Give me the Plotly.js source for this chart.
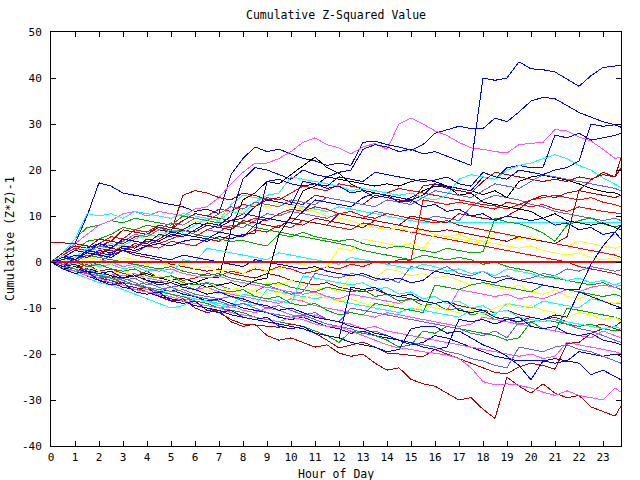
<!DOCTYPE html>
<html><head><meta charset="utf-8">
<script src="https://cdn.plot.ly/plotly-3.0.1.min.js"></script>
<style>
html,body{margin:0;padding:0;background:#fff}
#chart{width:640px;height:480px}
.js-line{shape-rendering:crispEdges}
</style>
</head><body><div id="chart"></div>
<script>
// Hour of day (half-hour samples)
const hours = [0,0.5,1,1.5,2,2.5,3,3.5,4,4.5,5,5.5,6,6.5,7,7.5,8,8.5,9,9.5,10,10.5,11,11.5,12,12.5,13,13.5,14,14.5,15,15.5,16,16.5,17,17.5,18,18.5,19,19.5,20,20.5,21,21.5,22,22.5,23,23.5,23.75];

// Cumulative (Z*Z)-1 series
const sR2  = [0,-0.5,0.5,-1,0,1.5,2.5,2,3.5,3,4.5,4,3.5,5,4.5,6,5.5,7,6.5,8,7.5,9,8.5,8,7.5,7,8.5,8,7.5,7,6.5,6,5.5,5,4.5,4,3.5,3,2.5,2,1.5,1,0.5,0,-1,-1.5,-2,-2.5,-3];
const sG2  = [0,2,5,7.5,8,9,8.5,9.5,9,8.5,8,10,9.5,9,8.5,9,8.5,7.5,7,6.5,6,5.5,5,4.5,4,3.5,2.5,2,1.5,1,0.5,1.5,1,0.5,1,0.5,-0.5,0,-1,-1.5,-2,-3,-3.5,-4,-4.5,-5,-4.5,-5.5,-6];
const sB   = [0,2,4,10,17.2,16.5,15,14.5,14,13,12.5,12,11,11.5,10.5,19,22.5,25,24,24.5,23.5,22.5,22,21,21.5,21,26,26.3,25.5,25,24.3,25.5,28,28.7,29.5,29,29,31.3,30.5,32.6,35,35.8,35.5,34,32.5,31.5,30.5,29.8,29.3];
const sM1  = [0,1.5,4,6,8,9,10.5,11,10,11,10.5,10,11.5,12,14,17,19.5,21.5,21.5,22.5,24,26,27,25.5,24.8,23.5,25,25.8,24.5,30,31.3,30,28.5,27.5,26,24.8,24.5,24,23.7,25.5,25.8,26,28.8,28.5,27.2,26.3,24.5,22.5,22.8];
const sM2  = [0,2,5,10.5,10,10.5,9.5,11,10.5,10,9.5,10.5,10,9.5,9,12.5,14.5,14,13.5,13,12.5,12,11.5,11,12,11.5,11,10.5,10,9.5,9,8.5,8.5,8.5,8.5,8.5,8.5,8.5,8.5,8.5,8.5,8.5,8.5,8.5,8.5,8.5,8.5,8.5,8.5];
const sDR3 = [4.3,4.2,4,3.5,3,2.5,2.5,1.5,1,0.5,-0.5,-1,-1.5,-2,-1.5,-2.5,-3,-3.5,-2.5,-3,-4,-4.5,-5,-4.5,-5.5,-6,-6.5,-6,-7,-7.5,-8,-8.5,-9,-8.5,-9.5,-10,-10.5,-11,-10.5,-11.5,-12,-12.5,-12,-13,-13.5,-14,-13.5,-14.5,-15];
const sY1  = [0,-0.5,1,0.5,2.5,2,4,5.5,5,6.5,6,7.5,9,8.5,10,11.5,11,12.5,12,12.5,12,11.5,11,10,9.5,9,8,7.5,7,7.5,6.5,7,6,5.5,6,5,4.5,4,3.5,3,3.5,2.5,2,1.5,2,1,0.5,1,0.5];
const sLB1 = [0,-1,0,1.5,1,2,3.5,3,4.5,4,5,6,5.5,7,6.5,8,7.5,9,10.5,10,11,10.5,10,9.5,10.5,10,9.5,11,10.5,10,9.5,9,10,9.5,9,12,13.5,14.5,14,13.5,12.5,12,11,10.5,10,9.5,9,9.5,9];
const sK1  = [0,-1,-0.5,-1.5,-2,-1.5,-2.5,-3,-2.5,-3.5,-4,-3.5,-4.5,-3.5,-3.3,7,13.5,15,17.5,17,19,21,22.8,20.5,19.3,17,15.6,15,14.5,13,14,15.5,16.5,16.3,16,15.5,14.6,15.5,14,17.5,18.5,18.9,18.3,17.8,17,16,15.3,15,14.5];
const sR1  = [0,1.5,3,2.5,4,5.5,5,7,6.5,8,7.5,9,10.5,10,11.5,11,12.5,12,14,13.5,15,16.5,16,15.5,17,16.5,16,15.5,15,16,15.5,15,14.5,14,13.5,13,12.5,12.2,11.5,12.5,13.5,14,14.5,14,13.5,14,13,12.5,12];
const sG1  = [0,1,2.5,4.5,5,6,7.5,7,8,7.5,6.5,7,6,5.5,5,4.5,4.7,4,3.5,6,5.5,6.5,5.5,5,4.5,5,4,3.5,3,3.5,3,2.5,2,3,2.5,2,2.2,9.5,8.7,8.3,7.5,6.3,4.5,8,9,9.6,8.3,7.6,8];
const sBL1 = [0,-1,-1.5,-2.5,-3,-3.5,-4.5,-5,-5.5,-6.5,-6,-7,-7.5,-8.5,-8,-9,-10,-10.5,-11,-12,-12.5,-12,-13,-14,-14.5,-15.5,-15,-16,-16.5,-17,-18,-17.5,-16,-16.5,-17.5,-18.5,-19.5,-20.5,-21,-21.5,-21.5,-21.5,-22,-21.5,-22,-24.5,-23.5,-25,-25.6];
const sMG2 = [0,-1,-1.5,-2.5,-3,-4,-4.5,-5,-6,-6.5,-7,-8,-8.5,-9,-10,-9.5,-10.5,-11,-10,-10.5,-11.5,-12,-11.5,-12.5,-13,-13.5,-14.5,-14,-15,-15.5,-16,-16.5,-17,-17.5,-18,-18.5,-19,-19.5,-20,-20.5,-20,-21,-20.5,-17.5,-18,-18.5,-19,-19.5,-20];
const sCY3 = [0,-1,-2,-1.5,-2.5,-3.5,-4,-5,-5.5,-6,-7,-7.5,-8,-8.5,-9.5,-10,-9,-9.5,-6,-6.5,-7,-7.5,-8,-7.5,-8.5,-9,-9.5,-10,-10.5,-11,-10,-10.5,-11,-11.5,-12,-10.5,-11,-11.5,-9,-9.5,-10,-8.5,-9,-9.5,-10,-8,-8.5,-9,-9];
const sDR1 = [0,-1,-0.5,-2.5,-3.5,-3,-5,-6,-5.5,-7.5,-8.5,-8,-10,-11,-10.5,-13,-14,-13.5,-16,-17,-16.5,-17.5,-18.5,-18,-19.8,-20.5,-20,-22,-23.5,-23,-25.5,-26.5,-27,-28.5,-30,-29.5,-32,-34,-25,-27,-28.5,-26.5,-28.5,-29.5,-29,-31.5,-32.5,-33.5,-31.3];
const sY2  = [0,-1,-1.5,-2.5,-2,-3,-3.5,-4.5,-4,-5,-6,-5.5,-6.5,-6,-7,-6.5,-7.5,-6,-4.5,-5,-4,-5,-6,-5.5,-6.5,-3,-2.5,-3.5,-1.5,-2,-3,-2.5,-3.5,-3,-4,-5,-4.5,-5.5,-6,-5,-6.5,-7,-6,-7.5,-8,-7,-8.5,-9,-8.5];
const sLB2 = [0,-1,-2,-1.5,-3,-2.5,-4,-3.5,-5,-4,-5.5,-5,-6,-4.5,-5,-6,-5.5,-6.5,-5,-6,-7,-6.5,-2.5,-3,-3.5,-2.5,-3,-4,-3.5,-4.5,-1,-1.5,-2,-1,-2.5,-3,-2,-3.5,-3,-4,-3.5,-2.5,-3,-1.5,-2,-1,-1.5,-2,-1.7];
const sR3  = [0,-1,-1.5,-0.5,-2,-1.5,-2.5,-3,-2,-3.5,-3,-4,-3.5,-2.5,-3,-2,-2.5,-1.5,-2,-1,-1.5,-2.5,-2,-1,-1.5,-0.5,-1,0,-0.5,0.5,0.4,13.5,13,12.5,13,12.5,12,11.5,13,12.5,12,12.5,11.5,11,12,11.5,11,10.7,10.5];
const sG3  = [0,-1,-1.5,-2.5,-3,-3.5,-4.5,-5,-5.5,-6.5,-7,-7.5,-8.5,-9,-10,-10.5,-11,-12,-12.5,-13,-13.5,-14,-15,-16,-17.5,-15,-15.5,-16,-17,-18.5,-18,-15,-15.5,-14,-14.5,-15,-15.5,-16,-17,-16.5,-13,-12.5,-13,-13.5,-14,-13.5,-14.5,-15,-14.5];
const sA   = [0,1.5,0.5,2.5,2,1.5,3.5,3,5,4.5,6,5.5,7,8.5,8,10,18,20.5,20,19,18,20,19,18.5,19.5,20,24.5,25.5,25,24,24.5,23.5,24,23,22,21,40,39.5,40,43.5,42,41.8,41.3,39.8,38.2,40.5,42.3,42.6,42.8];
const sMG3 = [0,0.5,-0.5,1,0.5,0,-1,-0.5,-1.5,-2,-1.5,-2.5,-3,-3.5,-3,-4,-4.5,-5,-5.5,-6,-6.5,-7,-6.5,-7.5,-8,-7,-7.5,-8,-8.5,-9,-8,-9.5,-10,-10.5,-6,-6.5,-7,-7.5,-7,-8,-7.5,-8,-7,-6,-6.5,-5.5,-5,-5.5,-5];
const sCY4 = [0,0.5,-0.5,0,-1,-0.5,-1.5,-1,-2,-1.5,-2.5,0.5,0,3,2.5,2,1.5,1,0.5,2,1.5,1,0.5,0,-0.5,1,0.5,0,-0.5,-1,-1.5,-0.5,-1,-2,-1.5,-2.5,-2,-3,-1.5,-2,-2.5,-3.5,-3,-4,-3.5,-4.5,-4,-5,-4.5];
const sDR2 = [0,-1,-2,-2.5,-3.5,-4,-5,-5.5,-6.5,-7,-8,-8.5,-9.5,-10,-11,-12.5,-13.5,-13.7,-14,-14.2,-13.5,-14,-15.5,-17,-18.7,-18,-17.4,-18.5,-19.8,-20,-20.3,-20.6,-19,-20,-21,-22,-23,-24,-24.3,-22.8,-22,-22.5,-23.3,-17.7,-17.5,-15.5,-14.5,-14,-13];
const sY3  = [0,0.5,-0.5,1,0.5,-0.5,1,0.5,-0.5,0,-1,-0.5,-1.5,-1,-2,-1.5,-2.5,-1,-2,-1.5,0,-0.5,-1.5,-1,3,2.5,5,4.5,4,3.5,4,3,6,5.5,5,4.5,4,6.5,6,5,5.5,4.5,4,3.5,4.5,4,3.5,3,3.5];
const sLB3 = [0,-1,-2,-2.5,-3.5,-3,-4,-5,-4.5,-5.5,-6.5,-6,-7,-7.5,-8,-7.5,-8.5,-9,-10,-9.5,-10.5,-11.5,-11,-12.5,-13,-10,-10.5,-11,-11.5,-12,-12.5,-13,-13.5,-14,-14.5,-15.5,-16,-15,-16.5,-13,-12.5,-13,-12.5,-13.5,-14.5,-15,-16,-17,-17.5];
const sK2  = [0,-1.5,-1,-2.5,-2,-3,-3.5,-2.5,-4,-4.5,-4,-5,-4.5,-5.5,-5,-4.5,-5.5,-4,-3.5,6,10,15.5,16.5,18.5,18,17.5,17,16.5,17,16.5,17.5,18,17.5,16.5,14.5,15,13,12.5,12,11.5,11,9.5,10.5,9,8.5,8,8.5,7.5,7];
const sR4  = [0,0.5,1.5,1,2,3,2.5,3.5,4.5,4,5,6,5.5,7,8,7.5,8.5,9.5,9,10.5,11.5,11,12,11.5,10.5,11,10,9.5,10.5,10,9.5,9,8.5,9,8,7.5,7,6.5,6,5.5,5,4.5,4,3.5,3,2.5,2,1.5,1];
const sG4  = [0,-0.5,0.5,1.5,1,0.5,0,-0.5,-1,-1.5,-1,-2,-2.5,-3,-2.5,-3.5,-4,-4.5,-5,-4.5,-5.5,-6,-6.5,-5.5,-6,-6.5,-6,-7.5,-7,-8.5,-8,-9.5,-9,-10.5,-10,-11.5,-11,-12.5,-12,-13.5,-13,-14.5,-15,-10,-10.5,-11,-11.5,-12,-12.5];
const sBL2 = [0,-1.5,-2,-3,-4,-4.5,-5.5,-6,-6.5,-7.5,-8,-8.5,-9.5,-10,-10.5,-11.5,-12,-12.5,-13,-13.5,-14,-14.5,-15.5,-16,-16.5,-17.5,-18,-18.5,-19.5,-19,-14.5,-14,-14,-15.5,-15,-16.5,-18,-19,-20.5,-22.5,-25.6,-21.5,-21,-21.5,-19.5,-20,-20.5,-20,-20.5];
const sMG4 = [0,-0.5,-1.5,-1,-2,-2.5,-3,-2.5,-3.5,-4,-4.5,-5.5,-6,-5.5,-6.5,-7,-7.5,-8,-8.5,-9,-8,-8.5,-9.5,-10,-10.5,-11,-11.5,-12,-11,-11.5,-12,-12.5,-13,-13.5,-14,-13.5,-12,-12.5,-13,-13.5,-14,-14.5,-15,-15.5,-16,-16.5,-15,-16,-16.5];
const sCY5 = [0,-1.5,-2.5,-3.5,-4.5,-5,-6,-7,-8,-9,-10,-9.5,-8,-8.5,-9,-9.5,-7,-7.5,-8,-8.5,-9,-3,-3.5,-4,-4.5,-5,-4.5,-6,-5.5,-7,-6.5,-8,-7.5,-9,-8.5,-10,-9.5,-11,-10.5,-12,-12.5,-13,-12.5,-13,-13.5,-14,-14.5,-14,-14.5];
const sDR4 = [0,1,2.5,2,3.5,4.5,4,5.5,6,7.5,7,9,10.5,10,9.5,9,10.5,10,9.5,9,8.5,8,9.5,9,8.5,8,7.5,9,8.5,8,10,9.5,9,8.5,10.5,10,9.5,9.2,10,11.5,13.5,14.5,14,15,15.5,15,14.5,14,14.5];
const sY4  = [0,-0.5,-1.5,-1,-2,-2.5,-2,-3,-3.5,-3,-4,-4.5,-5,-4.5,-5.5,-6,-5.5,-6.5,-7,-6.5,-7.5,-8,-7,-8,-8.5,-8,-9,-9.5,-9,-10,-10.5,-9.5,-10,-10.5,-11,-10.5,-11.5,-10,-9,-10,-9.5,-10.5,-11,-12,-11,-11.5,-12.5,-12,-13];
const sLB4 = [0,-0.5,-1.5,-2.5,-3,-4,-3.5,-4.5,-5.5,-6,-5.5,-6.5,-7.5,-8,-8.5,-9.5,-9,-10,-11,-11.5,-12,-11.5,-12.5,-13.5,-14,-14.5,-15.5,-15,-16,-17,-17.5,-18,-18.5,-19.5,-20,-21,-21.5,-22.5,-23,-18.5,-19,-19.5,-18.5,-18,-19,-19.5,-20.5,-21.5,-22];
const sRJ  = [0,2,3.5,3,5,4.5,7,6.5,6,8,7.5,7,6.5,8,7.5,7,9,8.5,8,7.5,9.5,9,8.5,8,10.5,10,9.5,9,8.5,8,7.5,7,6.5,7,6.5,6,5.5,5,4.5,5.5,5,4.5,4,5.5,15.6,17.8,19.5,18.5,20.4];
const sG5  = [0,1,0,-1,-0.5,-1.5,-2,-1.5,-3,-3.5,-3,-4.5,-5,-4.5,-6,-6.5,-6,-7.5,-8,-7.5,-9,-9.5,-9,-10.5,-11.5,-11,-11.5,-9,-9.5,-10,-10.5,-11,-5,-5.5,-6,-5,-4.5,-5,-5.5,-6,-6.5,-5,-5.5,-6,-6.5,-7,-7.5,-7,-7.5];
const sC   = [0,-1,1,3,4,3.5,4.5,6,5.5,7,6.5,6,5.5,5,6.5,6,5.5,8,9.5,9,8.5,11,13.5,13,12.5,12,14,15,14.5,14,13.5,14.5,17,16.5,16,15.5,18.5,18,20.5,21,20.5,20.6,27.6,27,28,26.5,27,27.5,28];
const sML  = [0,-1.5,-2,-3,-3.5,-4.5,-5,-6,-6.5,-7,-7.5,-8.5,-9,-9.5,-10,-11,-11.5,-12,-12.5,-13,-12,-12.5,-13.5,-14,-14,-15,-16,-17,-18,-18.7,-19,-19.5,-19.8,-20.2,-21,-23,-26,-26.7,-26.5,-26.8,-27.4,-28.3,-29,-28,-29,-29.5,-30,-27.4,-28.3];
const sM3  = [0,1.5,1,3,2.5,4,3.5,5,6,5.5,7,6.5,8,9.5,9,11,10.5,13,14.5,15,18.5,18,17.5,17,16.5,15.5,16,15.5,15,14.5,15,14,13.5,14.5,18,19,18.5,18,20,21,21.5,22.5,23.3,22.5,21,20,18.3,17,16.2];
const sDRt = [0,1,0.5,2,1.5,3,2.5,4,3.5,5,6.5,14.5,15.5,15,14,13.5,15,14.5,13.5,14,13,12.5,14.5,14,13.5,13,12.5,14.5,14,13.5,13,16.5,17,16,15.5,15,17.5,19.5,19,18.5,18,17.5,18,17.5,18.5,18,19,18.5,22.6];
const sBL3 = [0,-1,-0.5,-2,-2.5,-2,-3.5,-3,-4,-5,-4.5,-5.5,-6,-7,-6.5,-7.5,-8,-9,-9.5,-10.5,-10,-11,-12,-12.5,-13,-14,-14.5,-15.5,-16,-17,-17.5,-18.5,-19,-18.5,-12.5,-13,-12.5,-13.5,-12.5,-13,-12,-12.5,-11.5,-12,-6.5,-7.5,-8.5,-9.5,-10];
const sLB5 = [0,1,0.5,2,3.5,3,4.5,6,5.5,7,8.5,8,9.5,9,10.5,12,11.5,13,12.5,12,13.5,13,12.5,14,13.5,13,12.5,12,13.5,13,12.5,14,15.5,15,14.5,14,15.5,17,16.5,16,17.5,19,18.5,18,17.5,17,16.5,16,15.5];
const sD   = [0,1,2.5,2,4,3,5,4.5,4,6,5.5,7,8.5,8,7.5,9,9.5,12,13.5,13,12.5,17.5,17,16.5,18.5,18,17.5,19.5,19,18.5,18,17.5,17.8,18.5,17,16.5,19.5,18.5,18,20,19.5,19,20,20.5,22,30,29.5,29.8,30];
const sBL4 = [0,1,0.5,2,1.5,1,2.5,2,1.5,1,0.5,1.5,1,0.5,0,-0.5,-1,0.5,0,-0.5,-1,-1.5,-1,-2,-2.5,-3,-2.5,-3.5,-4,-3.5,-4.5,-4,-2,-2.5,-3,-3.5,-4,-4.5,-3.5,-4,-4.5,-5,-5.5,-6,-6,-0.5,3.5,6.5,8];
const sBL5 = [0,-1.5,-2.5,-2,-4,-5,-4.5,-6.5,-7,-6.5,-8.5,-9,-8.5,-10.5,-11,-10.5,-12,-12.5,-12,-14,-14.5,-14,-15.5,-16,-16.5,-5.5,-6,-5.5,-7,-7.5,-7,-8.5,-9,-8.5,-10.5,-11,-10.5,-12,-12.5,-12,-14,-14.5,-14,-15.5,-16,-15.5,-17,-17.5,-18];
const sBL6 = [0,0.5,1.5,1,2.5,2,3,2.5,3.5,4,3.5,4.5,5,4.5,5.5,5,6,6.3,17.5,18,17,16.5,17,16,16.5,15,15.5,14,14.5,13,13.5,12,12.5,11,11.5,10,10.5,9,10,9.5,9,9.5,8,8.5,7,7.5,6,6.5,5];

// Reference line at zero
const zeroX = [0, 23.75];
const zeroY = [0, 0];

// Tick labels
const xTickVals = [0,1,2,3,4,5,6,7,8,9,10,11,12,13,14,15,16,17,18,19,20,21,22,23];
const xTickText = ['0','1','2','3','4','5','6','7','8','9','10','11','12','13','14','15','16','17','18','19','20','21','22','23'];
const yTickVals = [-40,-30,-20,-10,0,10,20,30,40,50];
const yTickText = ['-40','-30','-20','-10','0','10','20','30','40','50'];

const RED='#ff0000', GREEN='#00a800', BLUE='#0000ff', MAG='#ff50ff', CYAN='#00ffff',
      DRED='#b00000', YEL='#ffff00', LBLUE='#6060ff', BLACK='#000000';

const seriesList = [
  [sR2,RED],[sG2,GREEN],[sB,BLUE],[sM1,MAG],[sM2,CYAN],[sDR3,DRED],[sY1,YEL],[sLB1,LBLUE],[sK1,BLACK],
  [sR1,RED],[sG1,GREEN],[sBL1,BLUE],[sMG2,MAG],[sCY3,CYAN],[sDR1,DRED],[sY2,YEL],[sLB2,LBLUE],
  [sR3,RED],[sG3,GREEN],[sA,BLUE],[sMG3,MAG],[sCY4,CYAN],[sDR2,DRED],[sY3,YEL],[sLB3,LBLUE],[sK2,BLACK],
  [sR4,RED],[sG4,GREEN],[sBL2,BLUE],[sMG4,MAG],[sCY5,CYAN],[sDR4,DRED],[sY4,YEL],[sLB4,LBLUE],
  [sRJ,DRED],[sG5,GREEN],[sC,BLUE],[sML,MAG],[sM3,CYAN],[sDRt,DRED],[sBL3,BLUE],[sLB5,LBLUE],
  [sD,BLUE],[sBL4,BLUE],[sBL5,BLUE],[sBL6,BLUE]
];

const traces = seriesList.map(([ys, c]) => ({
  x: hours, y: ys, type: 'scatter', mode: 'lines',
  line: {color: c, width: 1}, hoverinfo: 'skip', showlegend: false
}));
traces.push({x: zeroX, y: zeroY, type: 'scatter', mode: 'lines',
  line: {color: RED, width: 2}, hoverinfo: 'skip', showlegend: false});

const FONT = 'DejaVu Sans Mono, Liberation Mono, monospace';
const axisCommon = {
  ticks: 'inside', ticklen: 5, tickwidth: 1, tickcolor: '#000',
  showline: true, linecolor: '#000', linewidth: 1, mirror: 'ticks',
  showgrid: false, zeroline: false, fixedrange: true,
  tickfont: {family: FONT, size: 11, color: '#000'}
};

const layout = {
  width: 640, height: 480,
  margin: {l: 51, r: 19, t: 32, b: 34, pad: 0},
  paper_bgcolor: '#ffffff', plot_bgcolor: '#ffffff',
  showlegend: false,
  font: {family: FONT, size: 11, color: '#000'},
  title: {text: 'Cumulative Z-Squared Value', x: 0.5, xref: 'paper', xanchor: 'center',
          y: 1 - 15/480, yref: 'container', yanchor: 'middle',
          font: {family: FONT, size: 11.5, color: '#000'}},
  xaxis: Object.assign({}, axisCommon, {range: [0, 23.75], tickmode: 'array',
          tickvals: xTickVals, ticktext: xTickText, ticklabelstandoff: 1}),
  yaxis: Object.assign({}, axisCommon, {range: [-40, 50], tickmode: 'array',
          tickvals: yTickVals, ticktext: yTickText, ticklabelstandoff: 6}),
  annotations: [
    {text: 'Hour of Day', xref: 'paper', yref: 'paper', x: 0.5, y: -(474-446)/414,
     xanchor: 'center', yanchor: 'middle', showarrow: false,
     font: {family: FONT, size: 11.5, color: '#000'}},
    {text: 'Cumulative (Z*Z)-1', xref: 'paper', yref: 'paper', x: -(51-10)/570, y: (446-239)/414,
     xanchor: 'center', yanchor: 'middle', textangle: -90, showarrow: false,
     font: {family: FONT, size: 11.5, color: '#000'}}
  ]
};

Plotly.newPlot('chart', traces, layout, {staticPlot: true, displayModeBar: false});
</script>
</body></html>
